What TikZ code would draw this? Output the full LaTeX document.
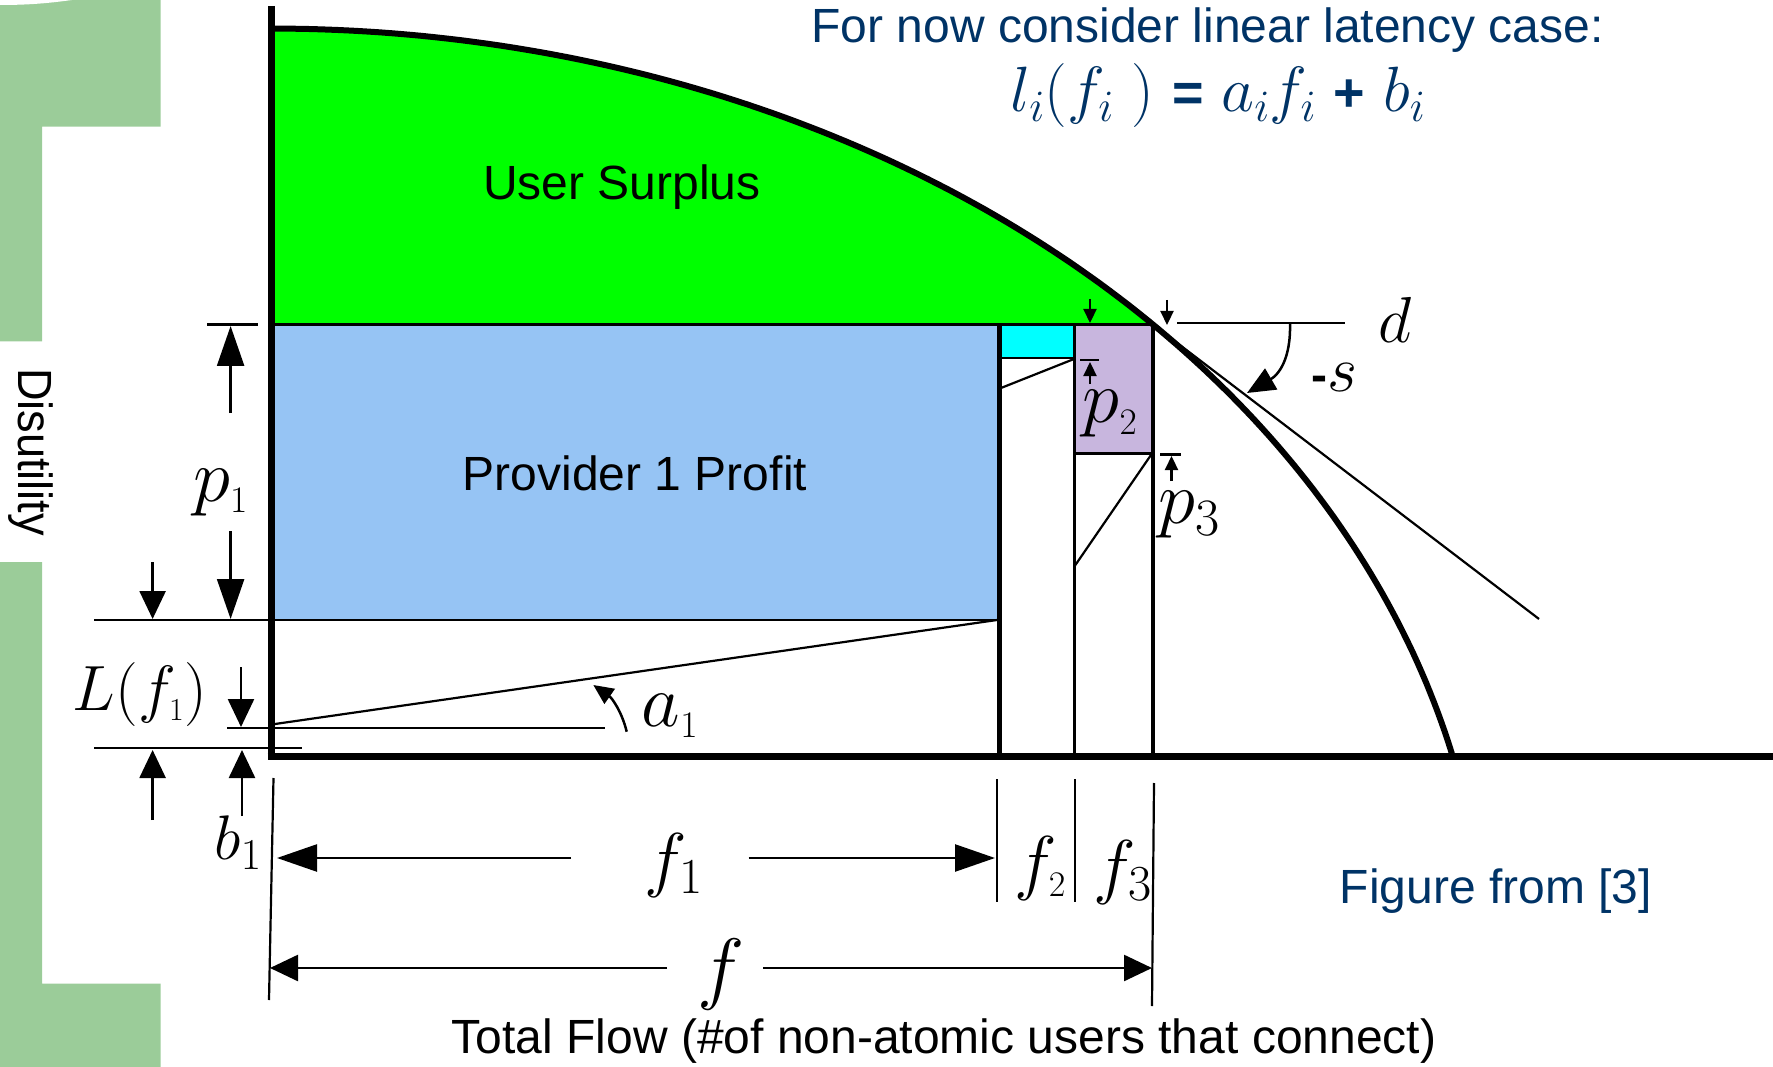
\RequirePackage{fix-cm}
\documentclass[tikz,border=0pt]{standalone}
\usepackage[no-math]{fontspec}
\setmainfont{Liberation Sans}
\usepackage{graphicx}
\usetikzlibrary{arrows.meta}
\definecolor{sage}{RGB}{155,204,153}
\definecolor{navy}{RGB}{0,51,102}
\definecolor{provblue}{RGB}{150,196,244}
\definecolor{provpurple}{RGB}{200,182,222}
\definecolor{surplus}{RGB}{0,255,0}
\definecolor{cyanbox}{RGB}{0,255,255}
\begin{document}
\begin{tikzpicture}[x=1pt,y=-1pt,
  thinline/.style={line width=2.2pt},
  bigtip/.style={line width=2.5pt,-{Triangle[length=40pt,width=27pt]}},
  medtip/.style={line width=2.5pt,-{Triangle[length=28pt,width=26pt]}},
  tinytip/.style={line width=2.2pt,-{Triangle[length=14pt,width=13pt]}},
  arctip/.style={line width=2.5pt,-{Triangle[length=28pt,width=24pt]}},
  smallarctip/.style={line width=2.5pt,-{Triangle[length=20pt,width=18pt]}},
  lbl/.style={inner sep=0pt},
  m75/.style={lbl,font=\fontsize{75}{80}\selectfont},
  sans48/.style={font=\fontsize{48}{56}\selectfont},
]
\useasboundingbox (0,0) rectangle (1773,1067);

% left decorative band
\fill[sage] (0,0) -- (160.5,0) -- (160.5,126.6) -- (42,126.6) -- (42,341.5) -- (0,341.5) -- cycle;
\fill[sage] (0,562) -- (42,562) -- (42,983.7) -- (160.5,983.7) -- (160.5,1067) -- (0,1067) -- cycle;
\fill[white] (0,0) -- (72,0) .. controls (50,3) and (30,5) .. (0,5) -- cycle;
\node[rotate=-90, font=\fontsize{48}{52}\selectfont] (disu) at (31,452) {\scalebox{0.94}[1]{Disutility}};

% filled regions
\fill[surplus] plot[domain=90:43.45, samples=60] ({271+1215*cos(\x)}, {976.5-948*sin(\x)}) -- (273,324.5) -- cycle;
\fill[provblue] (275,324.5) rectangle (997,620);
\fill[cyanbox] (1001.7,325) rectangle (1072.7,357.5);
\fill[provpurple] (1076,325) rectangle (1151,453.5);

% structure lines
\draw[line width=3.5pt] (271,324.5) -- (1153,324.5);
\draw[thinline] (94,620) -- (997,620);
\draw[line width=5pt] (999.5,324.5) -- (999.5,756);
\draw[line width=3.5pt] (1074.5,324.5) -- (1074.5,756);
\draw[line width=4.3pt] (1153,322.5) -- (1153,756);
\draw[line width=1.5pt] (1001,358) -- (1073,358);
\draw[line width=2.5pt] (1074.5,453.5) -- (1153,453.5);
\draw[thinline] (1001,388) -- (1074,359);
\draw[thinline] (1074,567) -- (1152,453.5);
\draw[thinline] (275,724) -- (997,620);

% demand curve and tangent
\draw[line width=6pt] plot[domain=90:13.6, samples=120] ({271+1215*cos(\x)}, {976.5-948*sin(\x)});
\draw[thinline] (1153,324.5) -- (1539,619);

% axes
\draw[line width=7pt] (271,6) -- (271,759.5);
\draw[line width=7pt] (267.5,756) -- (1773,756);

% d and -s
\coordinate (dstart) at (1177,323);
\coordinate (dend) at (1345,323);
\draw[thinline] (dstart) -- (dend);
\draw[tinytip] (1167,300) -- (1167,325);
\draw[arctip] (1290,323) .. controls (1291,360) and (1278,375) .. (1247,393);
\node[lbl, font=\fontsize{65}{70}\selectfont] (d) at (1395,319.5) {$d$};
\node[lbl, font=\fontsize{65}{70}\selectfont] (s) at (1334.5,377.5) {{\fontsize{48}{50}\selectfont\bfseries -}$s$};

% p2 / p3 markers
\draw[tinytip] (1090,299) -- (1090,323);
\draw[thinline] (1080,360) -- (1099,360);
\draw[tinytip] (1090,384) -- (1090,362);
\node[m75] (p2) at (1110,414) {$p_{\scriptscriptstyle 2}$};
\draw[thinline] (1160,454.5) -- (1181,454.5);
\draw[tinytip] (1171.5,481) -- (1171.5,456);
\node[m75] (p3) at (1189,515) {$p_3$};

% left annotations
\draw[thinline] (207,324.5) -- (258,324.5);
\draw[bigtip] (230.6,413) -- (230.6,326);
\node[m75] (p1) at (220.5,492.5) {$p_{\scriptscriptstyle 1}$};
\draw[bigtip] (230.6,531) -- (230.6,619);
\draw[medtip] (152.6,562) -- (152.6,619);
\node[lbl, font=\fontsize{64}{68}\selectfont] (Lf1) at (140,694.5) {$L(f_{\scriptscriptstyle 1})$};
\draw[medtip] (241,667) -- (241,727);
\draw[thinline] (227,728) -- (605,728);
\draw[thinline] (94,748) -- (302,748);
\draw[medtip] (152.6,820) -- (152.6,750);
\draw[medtip] (242,816) -- (242,750);
\node[lbl, font=\fontsize{63}{66}\selectfont] (b1) at (238,842.5) {$b_1$};
\draw[smallarctip] (626.7,731.7) .. controls (622,712) and (612,698) .. (593.3,685);
\node[m75] (a1) at (670,716) {$a_{\scriptscriptstyle 1}$};

% bottom dimensions
\draw[thinline] (273.5,778) -- (269,1000);
\draw[thinline] (997,779) -- (997,902);
\draw[thinline] (1075,779) -- (1075,902);
\draw[thinline] (1154,783) -- (1152,1006);
\draw[bigtip] (571,858) -- (277,858);
\draw[bigtip] (748.5,858) -- (995,858);
\node[lbl, font=\fontsize{72}{76}\selectfont] (f1) at (674,865) {$f_1$};
\node[lbl, font=\fontsize{72}{76}\selectfont] (f2) at (1040,868) {$f_{\scriptscriptstyle 2}$};
\node[lbl, font=\fontsize{72}{76}\selectfont] (f3) at (1123,872) {$f_3$};
\draw[medtip] (667,968) -- (270,968);
\draw[medtip] (763,968) -- (1152,968);
\node[lbl, font=\fontsize{80}{84}\selectfont] (f) at (721,974) {$f$};

% texts
\node[sans48] (us) at (622,187.5) {User Surplus};
\node[sans48] (pp) at (635,473) {Provider 1 Profit};
\node[sans48, text=navy] (t1) at (1207.6,30.5) {For now consider linear latency case:};
\node[lbl, text=navy, font=\fontsize{64}{68}\selectfont] (eq) at (1218,96) {$l_i(f_i\;)$ {\fontsize{54}{56}\selectfont\bfseries =} $a_if_i$ {\fontsize{54}{56}\selectfont\bfseries +} $b_i$};
\node[sans48, text=navy] (fig) at (1496,891.5) {Figure from [3]};
\node[sans48] (tf) at (944,1041) {Total Flow (\#of non-atomic users that connect)};
\end{tikzpicture}
\end{document}
